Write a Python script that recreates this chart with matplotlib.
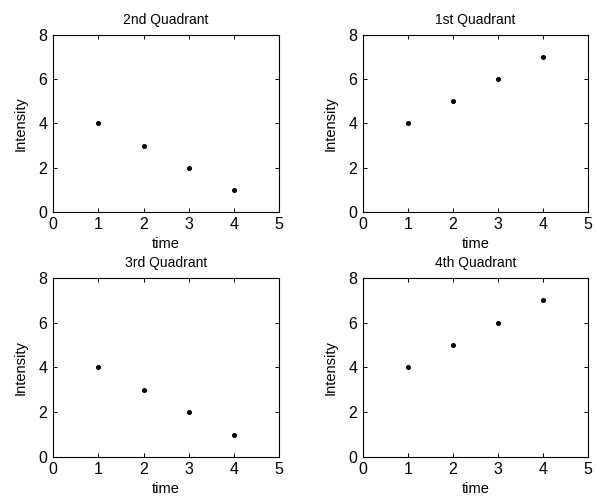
import matplotlib
matplotlib.use('Agg')
import matplotlib.pyplot as plt

plt.rcParams['font.family'] = ['Liberation Sans', 'DejaVu Sans']
plt.rcParams['font.size'] = 10

# Dados de cada quadrante
time = [1, 2, 3, 4]
q2_intensity = [4, 3, 2, 1]
q1_intensity = [4, 5, 6, 7]
q3_intensity = [4, 3, 2, 1]
q4_intensity = [4, 5, 6, 7]
titles = ['2nd Quadrant', '1st Quadrant', '3rd Quadrant', '4th Quadrant']
x_ticks = [0, 1, 2, 3, 4, 5]
y_ticks = [0, 2, 4, 6, 8]

fig = plt.figure(figsize=(5.97, 5.01), dpi=100)

# Posições dos eixos (estilo MATLAB subplot)
positions = [
    [0.0888, 0.577, 0.379, 0.353],
    [0.608, 0.577, 0.377, 0.353],
    [0.0888, 0.088, 0.379, 0.357],
    [0.608, 0.088, 0.377, 0.357],
]
series = [q2_intensity, q1_intensity, q3_intensity, q4_intensity]

for pos, data, title in zip(positions, series, titles):
    ax = fig.add_axes(pos)
    ax.plot(time, data, 'o', color='black', markersize=2.6)
    ax.set_xlim(0, 5)
    ax.set_ylim(0, 8)
    ax.set_xticks(x_ticks)
    ax.set_yticks(y_ticks)
    ax.tick_params(direction='in', top=True, right=True, length=3, width=0.7,
                   pad=4, labelsize=11.5)
    for s in ax.spines.values():
        s.set_linewidth(0.8)
    ax.set_title(title, fontsize=10, pad=8)
    ax.set_xlabel('time', fontsize=10.5, labelpad=3)
    ax.set_ylabel('Intensity', fontsize=10.5, labelpad=8)

fig.savefig('out.png', dpi=100)
